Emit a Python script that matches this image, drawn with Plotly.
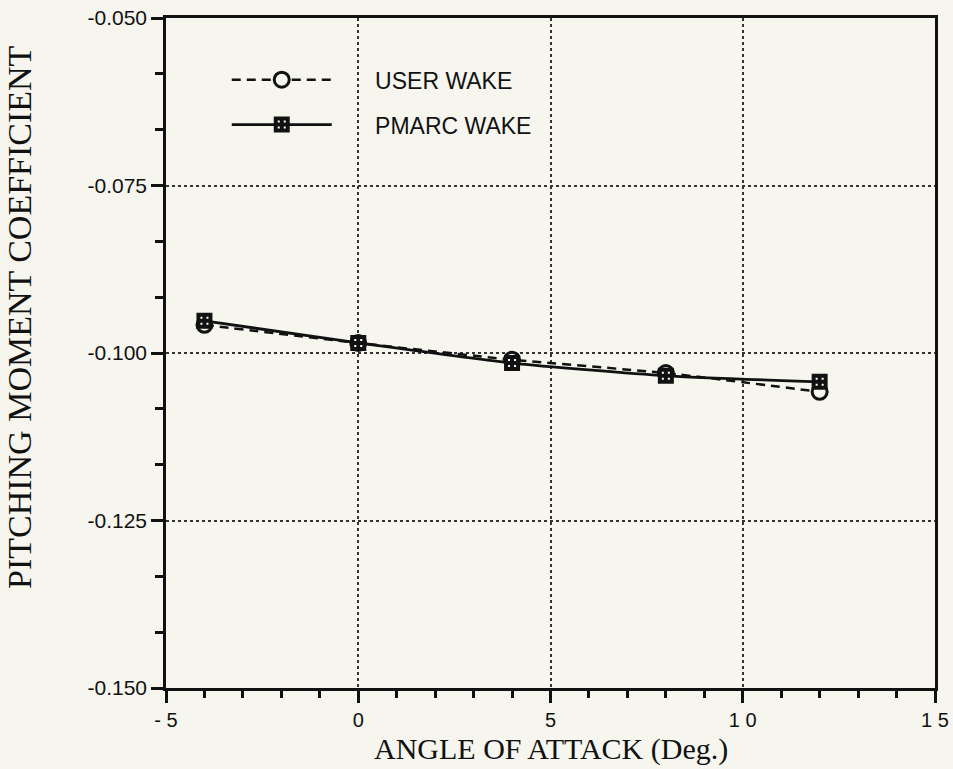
import plotly.graph_objects as go

# Pitching moment coefficient vs angle of attack for two wake models
alpha = [-4, 0, 4, 8, 12]
cm_user_wake = [-0.0958, -0.0985, -0.1010, -0.1030, -0.1058]
cm_pmarc_wake = [-0.0952, -0.0985, -0.1015, -0.1034, -0.1043]

x_tick_vals = [-5, 0, 5, 10, 15]
x_tick_text = ["- 5", "0", "5", "1 0", "1 5"]
y_tick_vals = [-0.150, -0.125, -0.100, -0.075, -0.050]
y_tick_text = ["-0.150", "-0.125", "-0.100", "-0.075", "-0.050"]
y_minor_vals = [-0.15 + i * 0.025 / 3 for i in range(13)]

BG = "#f6f6ef"
INK = "#111111"
SANS = "Liberation Sans, Arial, Helvetica, sans-serif"
SERIF = "Liberation Serif, Times New Roman, serif"
GAP = "\u00a0" * 6

fig = go.Figure()

fig.add_trace(go.Scatter(
    x=alpha, y=cm_user_wake, name=GAP + "USER WAKE", legendgroup="a",
    mode="lines+markers",
    line=dict(color=INK, width=2.5, dash="9px,6px", shape="spline", smoothing=0.6),
    marker=dict(symbol="circle", size=15, color=BG, line=dict(color=INK, width=3)),
))
fig.add_trace(go.Scatter(
    x=alpha, y=cm_pmarc_wake, name=GAP + "PMARC WAKE", legendgroup="b",
    mode="lines+markers",
    line=dict(color=INK, width=2.8, shape="spline", smoothing=0.6),
    marker=dict(symbol="square-cross", size=12, color="#ffffff", line=dict(color=INK, width=4)),
))

fig.update_layout(
    width=953, height=769,
    margin=dict(l=166, r=18, t=18, b=81),
    paper_bgcolor=BG, plot_bgcolor=BG,
    font=dict(family=SANS, size=20, color=INK),
    showlegend=True,
    legend=dict(
        x=0.079, y=0.94, xanchor="left", yanchor="top",
        bgcolor="rgba(0,0,0,0)", font=dict(family=SANS, size=23, color=INK),
        itemwidth=100, tracegroupgap=12, traceorder="grouped",
    ),
    annotations=[
        dict(text="ANGLE OF ATTACK (Deg.)", xref="paper", yref="paper",
             x=0.5, y=(688 - 768) / 670, xanchor="center", yanchor="bottom",
             showarrow=False, font=dict(family=SERIF, size=30, color=INK)),
        dict(text="PITCHING MOMENT COEFFICIENT", xref="paper", yref="paper",
             x=(19 - 166) / 769, y=(688 - 317) / 670, xanchor="center", yanchor="middle",
             textangle=-90, showarrow=False, font=dict(family=SERIF, size=34, color=INK)),
    ],
)

fig.update_xaxes(
    range=[-5, 15], tickmode="array", tickvals=x_tick_vals, ticktext=x_tick_text,
    ticks="outside", ticklen=12, tickwidth=2.5, tickcolor=INK,
    minor=dict(dtick=1, tick0=0, ticks="outside", ticklen=7, tickwidth=2.5, tickcolor=INK, showgrid=False),
    showline=True, linewidth=2.5, linecolor=INK, mirror=True,
    showgrid=True, gridcolor="#333333", gridwidth=1.5, griddash="dot",
    zeroline=False, automargin=False,
    tickfont=dict(family=SANS, size=20),
)
fig.update_yaxes(
    range=[-0.15, -0.05], tickmode="array", tickvals=y_tick_vals, ticktext=y_tick_text,
    ticks="outside", ticklen=12, tickwidth=2.5, tickcolor=INK,
    minor=dict(tickmode="array", tickvals=y_minor_vals, ticks="outside", ticklen=8, tickwidth=2.5, tickcolor=INK, showgrid=False),
    showline=True, linewidth=2.5, linecolor=INK, mirror=True,
    showgrid=True, gridcolor="#333333", gridwidth=1.5, griddash="dot",
    zeroline=False, automargin=False,
    tickfont=dict(family=SANS, size=21),
)

fig.write_html("out.html")
